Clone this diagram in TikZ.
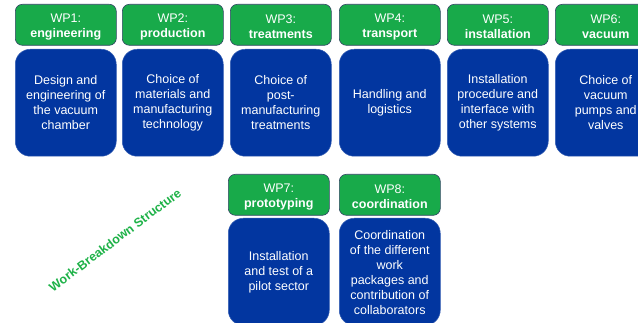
\documentclass[tikz,border=0pt]{standalone}
\usepackage{fontspec}
\setmainfont{Liberation Sans}
\definecolor{wpgreen}{RGB}{24,170,74}
\definecolor{wpblue}{RGB}{2,54,160}
\definecolor{wpedge}{RGB}{50,70,100}
\definecolor{wptext}{RGB}{30,178,72}
\newcommand{\hs}{\rule{0pt}{12.5pt}}
\tikzset{
  head/.style={draw=wpedge, line width=0.6pt, fill=wpgreen, rounded corners=7pt,
    minimum width=101pt, minimum height=41pt, inner sep=0pt, text=white,
    align=center, anchor=north west, font=\fontsize{12.5}{15}\selectfont},
  body/.style={draw=wpblue!80!white, line width=0.5pt, fill=wpblue, rounded corners=15pt,
    minimum width=101pt, minimum height=107pt, inner sep=0pt, text=white,
    align=center, anchor=north west, font=\fontsize{12.5}{15}\selectfont},
}
\begin{document}
\begin{tikzpicture}[x=1pt,y=-1pt]
\useasboundingbox (0,0) rectangle (638,323);
% top row
\node[head] (h1) at (15,4) {\hs WP1:\\\textbf{engineering}};
\node[body] (b1) at (15,49) {Design and\\engineering of\\the vacuum\\chamber};
\node[head] (h2) at (122,4) {\hs WP2:\\\textbf{production}};
\node[body] (b2) at (122,49) {Choice of\\materials and\\manufacturing\\technology};
\node[head] (h3) at (230,4) {\hs WP3:\\\textbf{treatments}};
\node[body] (b3) at (230,49) {Choice of\\post-\\manufacturing\\treatments};
\node[head] (h4) at (339,4) {\hs WP4:\\\textbf{transport}};
\node[body] (b4) at (339,49) {Handling and\\logistics};
\node[head] (h5) at (447,4) {\hs WP5:\\\textbf{installation}};
\node[body] (b5) at (447,49) {Installation\\procedure and\\interface with\\other systems};
\node[head] (h6) at (555,4) {\hs WP6:\\\textbf{vacuum}};
\node[body] (b6) at (555,49) {Choice of\\vacuum\\pumps and\\valves};
% bottom row
\node[head] (h7) at (228,174) {\hs WP7:\\\textbf{prototyping}};
\node[body] (b7) at (228,218) {\rule{0pt}{11pt}Installation\\and test of a\\pilot sector};
\node[head] (h8) at (339,174) {\hs WP8:\\\textbf{coordination}};
\node[body] (b8) at (339,218) {\rule{0pt}{11pt}Coordination\\of the different\\work\\packages and\\contribution of\\collaborators};
% label
\node[rotate=37, text=wptext, font=\fontsize{12.5}{15}\selectfont\bfseries] (wbs) at (115,240) {Work-Breakdown Structure};
\end{tikzpicture}
\end{document}
